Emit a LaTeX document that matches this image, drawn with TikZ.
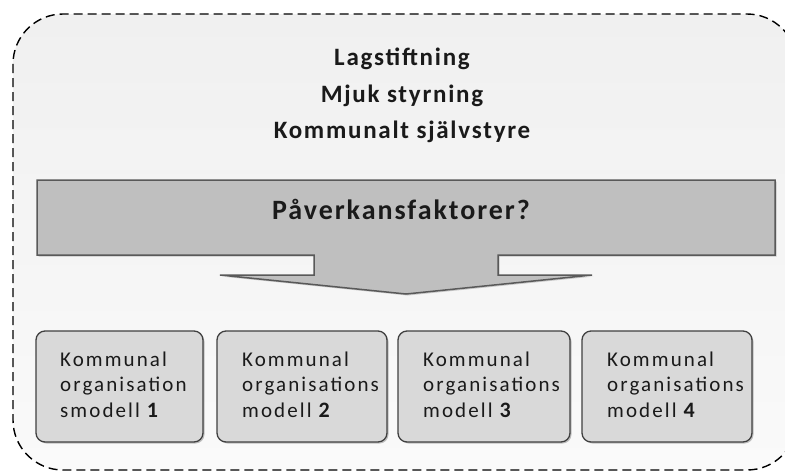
\documentclass[tikz,border=0pt]{standalone}
\usepackage{fontspec}
\setmainfont{Carlito}
\newfontfamily\titlefont[LetterSpace=7]{Carlito}
\newfontfamily\boxfont[LetterSpace=10]{Carlito}
\definecolor{bgtop}{HTML}{F0F0F0}
\definecolor{bgbot}{HTML}{FAFAFA}
\definecolor{bandfill}{HTML}{BFBFBF}
\definecolor{bandline}{HTML}{595959}
\definecolor{boxfill}{HTML}{D9D9D9}
\definecolor{boxline}{HTML}{404040}
\definecolor{txt}{HTML}{1A1A1A}
\newcommand\nrfont{\titlefont\fontsize{22}{26}\selectfont\bfseries}
\begin{document}
\begin{tikzpicture}[x=1pt,y=-1pt,
  titletxt/.style={anchor=base,inner sep=0pt,font=\titlefont\fontsize{25}{29}\selectfont\bfseries,text=txt},
  bandtxt/.style={titletxt,font=\titlefont\fontsize{28}{32}\selectfont\bfseries},
  orgbox/.style={draw=boxline,line width=1.3pt,fill=boxfill,rounded corners=9pt},
  shadowbox/.style={fill=black!25,rounded corners=9pt},
  boxtxt/.style={anchor=base west,inner sep=0pt,font=\boxfont\fontsize{21}{25}\selectfont,text=txt}]
\useasboundingbox (0,0) rectangle (785,472);
\clip (0,0) rectangle (785,472);
\fill[white] (0,0) rectangle (785,472);
% outer dashed frame
\path[top color=bgtop,bottom color=bgbot,rounded corners=50pt] (13,14) rectangle (797,470);
\draw[dash pattern=on 9pt off 5pt,line width=1.4pt,rounded corners=50pt] (13,14) rectangle (797,470);
% title lines
\node[titletxt] (t1) at (402,65) {Lagstiftning};
\node[titletxt] (t2) at (402,102) {Mjuk styrning};
\node[titletxt] (t3) at (402,138) {Kommunalt självstyre};
% band with arrow (shadow, then shape)
\fill[black!22] (38.5,181.5) -- (776.5,181.5) -- (776.5,256.5) -- (499.5,256.5) -- (499.5,276.5) -- (593.5,276.5)
  -- (407.5,295.5) -- (221.5,276.5) -- (315.5,276.5) -- (315.5,256.5) -- (38.5,256.5) -- cycle;
\draw[fill=bandfill,draw=bandline,line width=1.5pt]
  (37,180) -- (775,180) -- (775,255) -- (498,255) -- (498,275) -- (592,275)
  -- (406,294) -- (220,275) -- (314,275) -- (314,255) -- (37,255) -- cycle;
\node[bandtxt] (pf) at (401,219) {Påverkansfaktorer?};
% four boxes
\fill[shadowbox] (37.5,332.5) rectangle (204.5,443.5);
\fill[shadowbox] (218.5,332.5) rectangle (388.5,443.5);
\fill[shadowbox] (399.5,332.5) rectangle (571.5,443.5);
\fill[shadowbox] (583.5,332.5) rectangle (753.5,443.5);
\draw[orgbox] (36,331) rectangle (203,442);
\draw[orgbox] (217,331) rectangle (387,442);
\draw[orgbox] (398,331) rectangle (570,442);
\draw[orgbox] (582,331) rectangle (752,442);
\node[boxtxt] (a1) at (60,366) {Kommunal};
\node[boxtxt] (a2) at (60,391.5) {organisation};
\node[boxtxt] (a3) at (60,417) {smodell {\nrfont 1}};
\node[boxtxt] (b1) at (242,366) {Kommunal};
\node[boxtxt] (b2) at (242,391.5) {organisations};
\node[boxtxt] (b3) at (242,417) {modell {\nrfont 2}};
\node[boxtxt] (c1) at (423,366) {Kommunal};
\node[boxtxt] (c2) at (423,391.5) {organisations};
\node[boxtxt] (c3) at (423,417) {modell {\nrfont 3}};
\node[boxtxt] (d1) at (607,366) {Kommunal};
\node[boxtxt] (d2) at (607,391.5) {organisations};
\node[boxtxt] (d3) at (607,417) {modell {\nrfont 4}};
\end{tikzpicture}
\end{document}
